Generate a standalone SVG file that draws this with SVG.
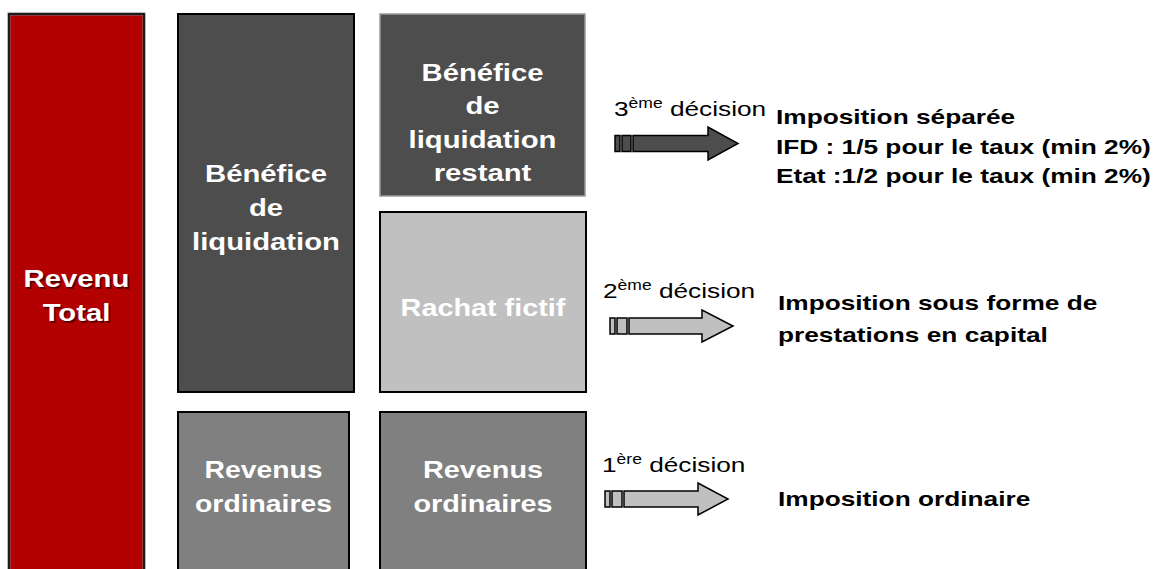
<svg xmlns="http://www.w3.org/2000/svg" width="1157" height="569" viewBox="0 0 1157 569">
<style>
.box{stroke:#000;stroke-width:2}
.bt{font-family:"Liberation Sans",Arial,sans-serif;font-weight:bold;font-size:24px;fill:#fff;text-anchor:middle}
.sh{font-family:"Liberation Sans",Arial,sans-serif;font-weight:bold;font-size:24px;fill:#5a0000;text-anchor:middle}
.dec{font-family:"Liberation Sans",Arial,sans-serif;font-size:21px;fill:#000}
.sup{font-size:14px}
.imp{font-family:"Liberation Sans",Arial,sans-serif;font-weight:bold;font-size:21px;fill:#000}
.arr{stroke:#000;stroke-width:1.5;stroke-linejoin:miter}
</style>
<rect width="1157" height="569" fill="#fff"/>
<g id="revenu-total">
<rect x="9" y="14" width="135" height="570" fill="#B30000" stroke="#777" stroke-width="3"/>
<rect x="9" y="14" width="135" height="570" fill="none" stroke="#000" stroke-width="1.5"/>
<g transform="translate(76.5,0) scale(1.22,1)">
<text class="sh" x="1.2" y="289">Revenu</text>
<text class="sh" x="1.2" y="323">Total</text>
<text class="bt" x="0" y="287">Revenu</text>
<text class="bt" x="0" y="321">Total</text>
</g>
</g>
<g id="benefice-liquidation">
<rect class="box" x="178" y="14" width="176" height="378" fill="#4D4D4D"/>
<g transform="translate(266,0) scale(1.22,1)">
<text class="bt" x="0" y="182">Bénéfice</text>
<text class="bt" x="0" y="216">de</text>
<text class="bt" x="0" y="250">liquidation</text>
</g>
</g>
<g id="benefice-restant">
<rect x="380" y="14" width="205" height="182" fill="#4D4D4D" stroke="#999" stroke-width="1.5"/>
<g transform="translate(482.5,0) scale(1.22,1)">
<text class="bt" x="0" y="81">Bénéfice</text>
<text class="bt" x="0" y="114">de</text>
<text class="bt" x="0" y="148">liquidation</text>
<text class="bt" x="0" y="181">restant</text>
</g>
</g>
<g id="rachat-fictif">
<rect class="box" x="380" y="212" width="206" height="180" fill="#C0C0C0"/>
<g transform="translate(483,0) scale(1.2,1)">
<text class="bt" x="0" y="316">Rachat fictif</text>
</g>
</g>
<g id="revenus-ordinaires-1">
<rect class="box" x="178" y="412" width="171" height="170" fill="#808080"/>
<g transform="translate(263.5,0) scale(1.18,1)">
<text class="bt" x="0" y="478">Revenus</text>
<text class="bt" x="0" y="512">ordinaires</text>
</g>
</g>
<g id="revenus-ordinaires-2">
<rect class="box" x="380" y="412" width="206" height="170" fill="#808080"/>
<g transform="translate(483,0) scale(1.2,1)">
<text class="bt" x="0" y="478">Revenus</text>
<text class="bt" x="0" y="512">ordinaires</text>
</g>
</g>
<g id="connectors">
<g fill="#4D4D4D" class="arr">
<rect x="615" y="135.5" width="5" height="16"/>
<rect x="622" y="135.5" width="9" height="16"/>
<polygon points="633,135.5 708,135.5 708,127 738,143.5 708,160 708,151.5 633,151.5"/>
</g>
<g fill="#C0C0C0" class="arr">
<rect x="610" y="318" width="5" height="16"/>
<rect x="617" y="318" width="10" height="16"/>
<polygon points="629,318 702,318 702,310 733,326 702,342 702,334 629,334"/>
</g>
<g fill="#C0C0C0" class="arr">
<rect x="605" y="491" width="5" height="16"/>
<rect x="612" y="491" width="10" height="16"/>
<polygon points="624,491 698,491 698,483 728,499 698,515 698,507 624,507"/>
</g>
</g>
<g id="decision-3">
<g transform="translate(614,0) scale(1.25,1)">
<text class="dec" x="0" y="116">3<tspan class="sup" dy="-8">ème</tspan><tspan dy="8"> décision</tspan></text>
</g>
<g transform="translate(776,0) scale(1.25,1)">
<text class="imp" x="0" y="124">Imposition séparée</text>
<text class="imp" x="0" y="154">IFD : 1/5 pour le taux (min 2%)</text>
<text class="imp" x="0" y="183">Etat :1/2 pour le taux (min 2%)</text>
</g>
</g>
<g id="decision-2">
<g transform="translate(603,0) scale(1.25,1)">
<text class="dec" x="0" y="298">2<tspan class="sup" dy="-8">ème</tspan><tspan dy="8"> décision</tspan></text>
</g>
<g transform="translate(778,0) scale(1.25,1)">
<text class="imp" x="0" y="310">Imposition sous forme de</text>
<text class="imp" x="0" y="342">prestations en capital</text>
</g>
</g>
<g id="decision-1">
<g transform="translate(602,0) scale(1.25,1)">
<text class="dec" x="0" y="472">1<tspan class="sup" dy="-8">ère</tspan><tspan dy="8"> décision</tspan></text>
</g>
<g transform="translate(778,0) scale(1.25,1)">
<text class="imp" x="0" y="506">Imposition ordinaire</text>
</g>
</g>
</svg>
